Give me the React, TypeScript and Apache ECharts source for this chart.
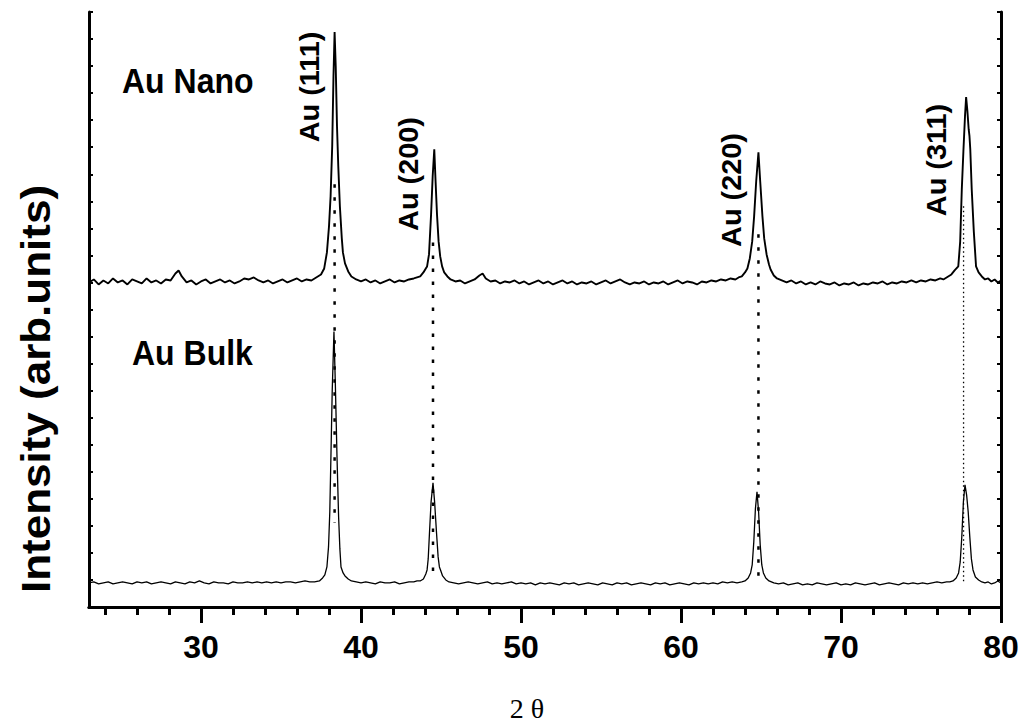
import React, { useEffect, useRef } from "react";
import * as echarts from "echarts";

// 2θ (deg) vs intensity (arb. units) for the nanoparticle pattern
const NANO: [number, number][] = [
  [23.0, 324], [23.3, 327], [23.6, 322], [23.9, 326], [24.2, 323], [24.5, 328], [24.8, 324],
  [25.1, 326], [25.4, 322], [25.7, 327], [26.0, 325], [26.3, 323], [26.6, 328], [26.9, 324],
  [27.2, 326], [27.5, 323], [27.8, 327], [28.1, 326], [28.4, 333], [28.6, 336], [28.8, 330],
  [29.1, 324], [29.4, 326], [29.7, 322], [30.0, 325], [30.3, 327], [30.6, 323], [30.9, 325],
  [31.2, 327], [31.5, 324], [31.8, 326], [32.1, 323], [32.4, 325], [32.7, 328], [33.0, 327],
  [33.3, 329], [33.6, 326], [33.9, 324], [34.2, 326], [34.5, 323], [34.8, 325], [35.1, 327],
  [35.4, 324], [35.7, 326], [36.0, 328], [36.3, 325], [36.6, 327], [36.9, 326], [37.2, 329],
  [37.5, 332], [37.7, 338], [37.87, 354], [38.0, 380], [38.1, 410], [38.2, 460], [38.28, 530],
  [38.35, 574], [38.42, 540], [38.5, 480], [38.58, 440], [38.68, 400], [38.8, 368], [38.87, 354],
  [39.0, 343], [39.2, 335], [39.4, 330], [39.7, 327], [40.0, 325], [40.3, 327], [40.6, 324],
  [40.9, 326], [41.2, 323], [41.5, 325], [41.8, 327], [42.1, 324], [42.4, 326], [42.7, 325],
  [43.0, 327], [43.3, 328], [43.5, 329], [43.7, 330], [43.9, 334], [44.05, 338], [44.13, 340],
  [44.25, 352], [44.38, 392], [44.48, 430], [44.58, 457], [44.66, 425], [44.75, 392], [44.85, 365],
  [44.95, 350], [45.07, 340], [45.2, 334], [45.4, 330], [45.6, 327], [45.9, 325], [46.2, 326],
  [46.5, 323], [46.8, 325], [47.1, 327], [47.4, 331], [47.6, 333], [47.8, 328], [48.1, 325],
  [48.4, 326], [48.7, 323], [49.0, 325], [49.3, 324], [49.6, 326], [49.9, 323], [50.2, 325],
  [50.5, 322], [50.8, 324], [51.1, 326], [51.4, 323], [51.7, 325], [52.0, 322], [52.3, 324],
  [52.6, 326], [52.9, 323], [53.2, 325], [53.5, 322], [53.8, 324], [54.1, 323], [54.4, 325],
  [54.7, 322], [55.0, 324], [55.3, 326], [55.6, 323], [55.9, 325], [56.2, 327], [56.5, 324],
  [56.8, 322], [57.1, 324], [57.4, 323], [57.7, 325], [58.0, 322], [58.3, 324], [58.6, 323],
  [58.9, 325], [59.2, 322], [59.5, 324], [59.8, 326], [60.1, 323], [60.4, 325], [60.7, 324],
  [61.0, 322], [61.3, 325], [61.6, 324], [61.9, 326], [62.2, 325], [62.5, 327], [62.8, 326],
  [63.1, 328], [63.4, 327], [63.6, 329], [63.8, 330], [64.0, 334], [64.15, 338], [64.3, 348],
  [64.45, 365], [64.57, 390], [64.7, 425], [64.84, 454], [64.95, 425], [65.09, 390], [65.2, 368],
  [65.35, 352], [65.5, 342], [65.6, 337], [65.8, 331], [66.0, 328], [66.3, 326], [66.6, 324],
  [66.9, 326], [67.2, 323], [67.5, 325], [67.8, 322], [68.1, 324], [68.4, 322], [68.7, 325],
  [69.0, 323], [69.3, 322], [69.6, 324], [69.9, 321], [70.2, 323], [70.5, 322], [70.8, 324],
  [71.1, 321], [71.4, 323], [71.7, 322], [72.0, 324], [72.3, 323], [72.6, 325], [72.9, 322],
  [73.2, 324], [73.5, 323], [73.8, 325], [74.1, 324], [74.4, 326], [74.7, 324], [75.0, 326],
  [75.3, 325], [75.6, 327], [75.9, 326], [76.2, 328], [76.4, 327], [76.6, 329], [76.9, 332],
  [77.1, 336], [77.33, 340], [77.45, 365], [77.55, 417], [77.65, 455], [77.75, 490], [77.82, 509],
  [77.9, 495], [77.98, 477], [78.03, 470], [78.08, 457], [78.17, 417], [78.3, 375], [78.44, 340],
  [78.6, 334], [78.8, 330], [79.0, 327], [79.2, 328], [79.4, 325], [79.6, 327], [79.8, 324],
  [80.0, 326],
];

// 2θ (deg) vs intensity (arb. units) for the bulk reference pattern
const BULK: [number, number][] = [
  [23.0, 24], [23.3, 25], [23.6, 23], [23.9, 24], [24.2, 25], [24.5, 23], [24.8, 24], [25.1, 25],
  [25.4, 24], [25.7, 23], [26.0, 25], [26.3, 24], [26.6, 25], [26.9, 23], [27.2, 24], [27.5, 25],
  [27.8, 24], [28.1, 23], [28.4, 25], [28.7, 24], [29.0, 23], [29.3, 25], [29.6, 24], [29.9, 26],
  [30.2, 24], [30.5, 23], [30.8, 25], [31.1, 24], [31.4, 24], [31.7, 23], [32.0, 25], [32.3, 24],
  [32.6, 24], [32.9, 25], [33.2, 24], [33.5, 25], [33.8, 24], [34.1, 25], [34.4, 24], [34.7, 25],
  [35.0, 24], [35.3, 25], [35.6, 25], [35.9, 24], [36.2, 25], [36.5, 26], [36.8, 25], [37.1, 25],
  [37.4, 26], [37.6, 29], [37.74, 32], [37.87, 40], [37.97, 60], [38.05, 95], [38.12, 150],
  [38.2, 215], [38.31, 275], [38.4, 220], [38.5, 150], [38.6, 90], [38.68, 58], [38.75, 40],
  [38.88, 34], [39.0, 31], [39.2, 28], [39.4, 26], [39.7, 25], [40.0, 24], [40.3, 25], [40.6, 24],
  [40.9, 23], [41.2, 25], [41.5, 24], [41.8, 24], [42.1, 25], [42.4, 23], [42.7, 24], [43.0, 25],
  [43.3, 25], [43.5, 26], [43.7, 26], [43.9, 28], [44.05, 33], [44.13, 37], [44.2, 48], [44.28, 74],
  [44.38, 105], [44.5, 124], [44.6, 105], [44.72, 74], [44.82, 50], [44.9, 40], [44.97, 37],
  [45.1, 31], [45.3, 27], [45.5, 25], [45.8, 24], [46.1, 23], [46.4, 24], [46.7, 25], [47.0, 24],
  [47.3, 23], [47.6, 24], [47.9, 25], [48.2, 23], [48.5, 24], [48.8, 23], [49.1, 24], [49.4, 25],
  [49.7, 23], [50.0, 24], [50.3, 23], [50.6, 24], [50.9, 22], [51.2, 24], [51.5, 23], [51.8, 24],
  [52.1, 23], [52.4, 22], [52.7, 24], [53.0, 23], [53.3, 24], [53.6, 22], [53.9, 23], [54.2, 24],
  [54.5, 23], [54.8, 22], [55.1, 24], [55.4, 23], [55.7, 22], [56.0, 24], [56.3, 23], [56.6, 24],
  [56.9, 22], [57.2, 23], [57.5, 24], [57.8, 23], [58.1, 22], [58.4, 24], [58.7, 23], [59.0, 24],
  [59.3, 22], [59.6, 23], [59.9, 24], [60.2, 23], [60.5, 22], [60.8, 24], [61.1, 23], [61.4, 24],
  [61.7, 23], [62.0, 24], [62.3, 23], [62.6, 25], [62.9, 24], [63.2, 25], [63.5, 24], [63.8, 25],
  [64.0, 26], [64.2, 29], [64.35, 34], [64.45, 42], [64.55, 65], [64.65, 98], [64.75, 115],
  [64.85, 95], [64.95, 62], [65.05, 42], [65.15, 34], [65.3, 29], [65.5, 26], [65.8, 24],
  [66.1, 23], [66.4, 24], [66.7, 22], [67.0, 23], [67.3, 24], [67.6, 22], [67.9, 23], [68.2, 22],
  [68.5, 24], [68.8, 23], [69.1, 22], [69.4, 23], [69.7, 24], [70.0, 22], [70.3, 23], [70.6, 22],
  [70.9, 24], [71.2, 23], [71.5, 22], [71.8, 23], [72.1, 24], [72.4, 22], [72.7, 23], [73.0, 24],
  [73.3, 23], [73.6, 22], [73.9, 24], [74.2, 23], [74.5, 24], [74.8, 23], [75.1, 24], [75.4, 23],
  [75.7, 24], [76.0, 25], [76.3, 24], [76.6, 25], [76.8, 25], [77.0, 26], [77.2, 29], [77.35, 34],
  [77.45, 45], [77.55, 70], [77.65, 105], [77.75, 122], [77.85, 112], [77.95, 95], [78.05, 70],
  [78.15, 48], [78.25, 37], [78.4, 30], [78.6, 27], [78.8, 25], [79.0, 24], [79.2, 25], [79.4, 23],
  [79.6, 24], [79.8, 26], [80.0, 24],
];

// Dotted guides joining the matching reflections of the two patterns
const GUIDE_111: [number, number][] = [[38.35, 422], [38.35, 84]];
const GUIDE_200: [number, number][] = [[44.5, 364], [44.5, 27]];
const GUIDE_220: [number, number][] = [[64.84, 372], [64.84, 27]];
const GUIDE_311: [number, number][] = [[77.66, 400], [77.66, 25]];

// Axis ticks
const X_MAJOR = [30, 40, 50, 60, 70, 80];
const X_MINOR = [24, 26, 28, 32, 34, 36, 38, 42, 44, 46, 48, 52, 54, 56, 58, 62, 64, 66, 68, 72, 74, 76, 78];
const X_MIN = 23;
const X_MAX = 80;
const Y_MIN = 0;
const Y_MAX = 594;
const Y_STEP = 27;

const SANS = "Liberation Sans, Arial, sans-serif";
const SERIF = "Liberation Serif, Times New Roman, serif";

const GRID = { left: 89, right: 23, top: 12, bottom: 118 };

// Text block: rotated texts read bottom-to-top; scaleX/scaleY stretch the glyphs slightly taller
function textEl(
  text: string,
  x: number,
  y: number,
  font: string,
  opts: { align?: string; rotation?: number; scaleX?: number; scaleY?: number } = {}
) {
  const align = opts.align ?? "left";
  return {
    type: "text",
    x,
    y,
    rotation: opts.rotation ?? 0,
    scaleX: opts.scaleX ?? 1,
    scaleY: opts.scaleY ?? 1,
    style: {
      text,
      fill: "#000",
      font,
      align,
      verticalAlign: "middle",
      textAlign: align,
      textVerticalAlign: "middle",
    },
  };
}

function peakLabel(text: string, x: number, y: number) {
  return textEl(text, x, y, `bold 27px ${SANS}`, { align: "center", rotation: Math.PI / 2, scaleX: 1.07 });
}

function guideSeries(data: [number, number][], width: number, dash: number[]) {
  return {
    type: "line",
    data,
    xAxisIndex: 0,
    yAxisIndex: 0,
    showSymbol: false,
    symbol: "none",
    silent: true,
    lineStyle: { color: "#000", width, type: dash },
    z: 4,
  };
}

export default function App() {
  const ref = useRef<HTMLDivElement>(null);

  useEffect(() => {
    if (!ref.current) return;
    const chart = echarts.init(ref.current, undefined, { renderer: "svg" });

    const option = {
      animation: false,
      backgroundColor: "#fff",
      grid: [
        { ...GRID, containLabel: false },
        { ...GRID, containLabel: false },
      ],
      xAxis: [
        {
          type: "value",
          gridIndex: 0,
          position: "bottom",
          min: X_MIN,
          max: X_MAX,
          axisLine: { show: true, lineStyle: { color: "#000", width: 3 } },
          axisTick: { show: true, customValues: X_MAJOR, length: 16, lineStyle: { color: "#000", width: 3 } },
          axisLabel: {
            show: true,
            customValues: X_MAJOR,
            color: "#000",
            fontSize: 32,
            fontWeight: "bold",
            fontFamily: SANS,
            margin: 24,
          },
          splitLine: { show: false },
        },
        {
          type: "value",
          gridIndex: 0,
          position: "top",
          min: X_MIN,
          max: X_MAX,
          axisLine: { show: true, lineStyle: { color: "#000", width: 3 } },
          axisTick: { show: true, inside: true, customValues: X_MAJOR, length: 4, lineStyle: { color: "#000", width: 2 } },
          axisLabel: { show: false },
          splitLine: { show: false },
        },
        {
          type: "value",
          gridIndex: 1,
          position: "bottom",
          min: X_MIN,
          max: X_MAX,
          axisLine: { show: false },
          axisTick: { show: true, customValues: X_MINOR, length: 8, lineStyle: { color: "#000", width: 3 } },
          axisLabel: { show: false },
          splitLine: { show: false },
        },
      ],
      yAxis: [
        {
          type: "value",
          gridIndex: 0,
          position: "left",
          min: Y_MIN,
          max: Y_MAX,
          interval: Y_STEP,
          axisLine: { show: true, lineStyle: { color: "#000", width: 3 } },
          axisTick: { show: true, inside: true, length: 4, lineStyle: { color: "#000", width: 2 } },
          axisLabel: { show: false },
          splitLine: { show: false },
        },
        {
          type: "value",
          gridIndex: 0,
          position: "right",
          min: Y_MIN,
          max: Y_MAX,
          interval: Y_STEP,
          axisLine: { show: true, lineStyle: { color: "#000", width: 3 } },
          axisTick: { show: true, inside: true, length: 4, lineStyle: { color: "#000", width: 2 } },
          axisLabel: { show: false },
          splitLine: { show: false },
        },
        {
          type: "value",
          gridIndex: 1,
          min: Y_MIN,
          max: Y_MAX,
          show: false,
        },
      ],
      series: [
        {
          name: "Au Nano",
          type: "line",
          data: NANO,
          xAxisIndex: 0,
          yAxisIndex: 0,
          showSymbol: false,
          symbol: "none",
          lineStyle: { color: "#000", width: 1.9 },
          z: 3,
        },
        {
          name: "Au Bulk",
          type: "line",
          data: BULK,
          xAxisIndex: 0,
          yAxisIndex: 0,
          showSymbol: false,
          symbol: "none",
          lineStyle: { color: "#000", width: 1.3 },
          z: 3,
        },
        guideSeries(GUIDE_111, 2.5, [3.5, 9.5]),
        guideSeries(GUIDE_200, 2.5, [3.5, 9.5]),
        guideSeries(GUIDE_220, 2.5, [3.5, 9.5]),
        guideSeries(GUIDE_311, 1.3, [1.5, 3]),
      ],
      graphic: [
        peakLabel("Au (111)", 310, 87),
        peakLabel("Au (200)", 409, 174),
        peakLabel("Au (220)", 732, 190),
        peakLabel("Au (311)", 937, 160),
        textEl("Au Nano", 122, 81, `bold 32px ${SANS}`, { scaleY: 1.08 }),
        textEl("Au Bulk", 132, 353, `bold 32px ${SANS}`, { scaleY: 1.08 }),
        textEl("Intensity (arb.units)", 36, 389, `bold 40px ${SANS}`, {
          align: "center",
          rotation: Math.PI / 2,
          scaleX: 1.1,
        }),
        textEl("2 θ", 527, 708, `28px ${SERIF}`, { align: "center" }),
      ],
    };

    chart.setOption(option as any);
    return () => chart.dispose();
  }, []);

  return (
    <div
      ref={ref}
      style={{ position: "fixed", left: 0, top: 0, width: 1024, height: 725, background: "#fff" }}
    />
  );
}
